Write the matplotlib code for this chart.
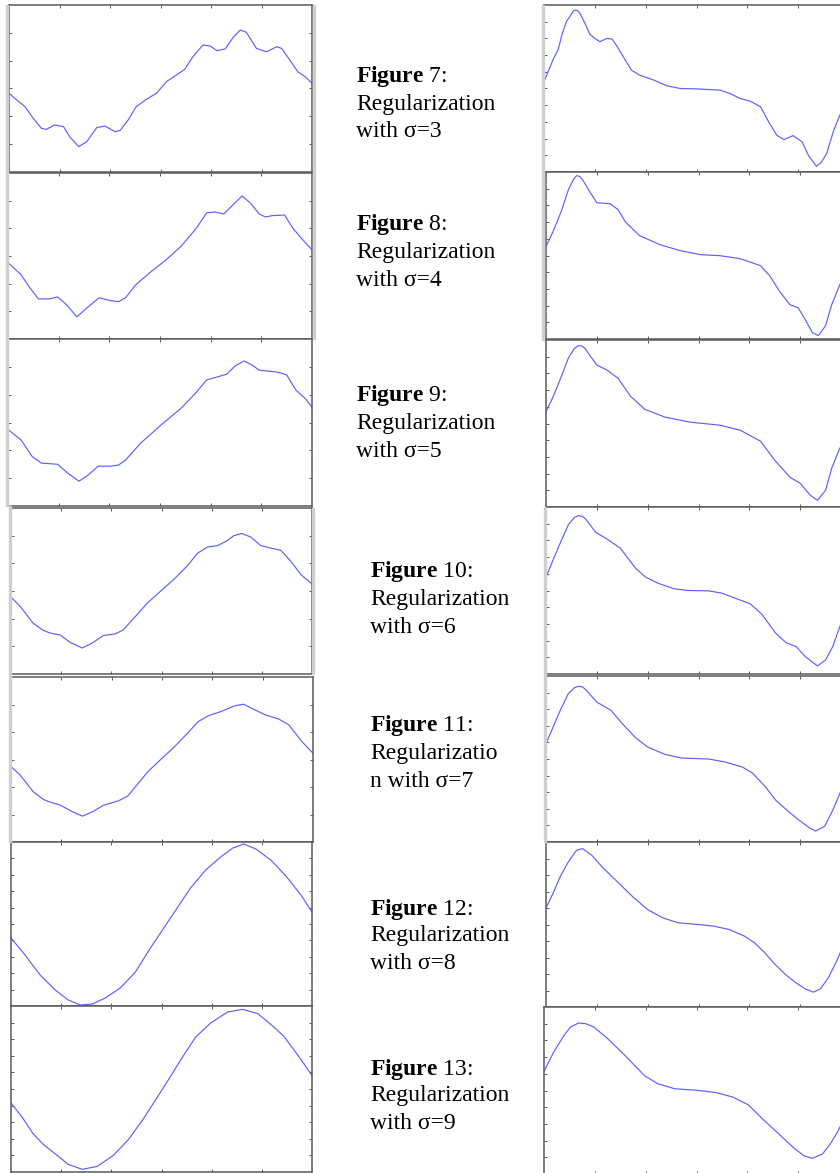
import matplotlib
matplotlib.use('Agg')
import matplotlib.pyplot as plt
from matplotlib.patches import Rectangle

plt.rcParams['font.family'] = ['Liberation Serif', 'DejaVu Serif']
plt.rcParams['mathtext.fontset'] = 'custom'
plt.rcParams['mathtext.rm'] = 'Liberation Serif'
plt.rcParams['mathtext.bf'] = 'Liberation Serif:bold'

W, H = 840, 1173

# ---- left column curves (sigma = 3 .. 9) ----
x_l3 = [0, 7.6, 15.8, 24, 32, 37, 45, 54, 60, 69, 77, 87, 95, 105, 110, 118, 126, 136,
        146, 156, 166, 174, 182, 192, 199, 206, 214, 222, 229, 235, 245, 255, 265, 270,
        278, 286, 293, 300]
y_l3 = [-0.17, -0.41, -0.65, -1.07, -1.43, -1.47, -1.31, -1.37, -1.73, -2.09, -1.91, -1.40,
        -1.35, -1.55, -1.51, -1.13, -0.65, -0.39, -0.17, 0.25, 0.49, 0.69, 1.14, 1.56, 1.53,
        1.36, 1.42, 1.84, 2.10, 2.02, 1.44, 1.32, 1.50, 1.44, 1.02, 0.60, 0.43, 0.19]

x_l4 = [0, 13, 21, 30, 41, 49, 58, 68, 78, 90, 101, 109, 116, 126, 141, 156, 171, 186,
        196, 204, 213, 221, 231, 239, 248, 254, 261, 273, 281, 291, 300]
y_l4 = [-0.24, -0.68, -1.12, -1.55, -1.55, -1.48, -1.77, -2.20, -1.87, -1.51, -1.61, -1.65,
        -1.51, -1.04, -0.57, -0.14, 0.36, 1.01, 1.56, 1.59, 1.52, 1.81, 2.17, 1.92, 1.52,
        1.41, 1.46, 1.48, 1.01, 0.58, 0.22]

x_l5 = [0, 13, 24, 33, 49, 59, 70, 79, 89, 101, 109, 116, 131, 151, 171, 186, 196, 206,
        216, 224, 233, 241, 248, 256, 266, 275, 284, 294, 300]
y_l5 = [-0.25, -0.63, -1.23, -1.46, -1.50, -1.82, -2.11, -1.89, -1.57, -1.57, -1.53, -1.35,
        -0.74, -0.09, 0.52, 1.09, 1.53, 1.63, 1.74, 2.03, 2.21, 2.06, 1.88, 1.85, 1.81,
        1.71, 1.17, 0.84, 0.55]

x_l6 = [0, 9, 22, 32, 39, 49, 59, 71, 81, 92, 104, 112, 124, 136, 149, 162, 176, 186,
        196, 206, 216, 222, 230, 239, 249, 259, 269, 279, 289, 300]
y_l6 = [-0.22, -0.55, -1.16, -1.42, -1.52, -1.59, -1.86, -2.06, -1.88, -1.61, -1.55, -1.40,
        -0.92, -0.43, -0.01, 0.41, 0.92, 1.37, 1.59, 1.64, 1.83, 2.00, 2.08, 1.95, 1.64,
        1.55, 1.47, 1.07, 0.59, 0.25]

x_l7 = [0, 9, 22, 32, 39, 49, 61, 71, 81, 92, 107, 116, 136, 149, 162, 176, 186, 196, 209,
        222, 231, 242, 252, 266, 276, 289, 300]
y_l7 = [-0.26, -0.56, -1.17, -1.45, -1.55, -1.66, -1.90, -2.06, -1.90, -1.66, -1.50, -1.33,
        -0.44, 0.01, 0.45, 0.98, 1.38, 1.59, 1.75, 1.95, 2.01, 1.81, 1.63, 1.47, 1.26, 0.65,
        0.23]

x_l8 = [0, 14, 29, 44, 57, 69, 81, 94, 109, 124, 139, 159, 179, 194, 209, 221, 232, 244,
        259, 274, 289, 300]
y_l8 = [-0.85, -1.89, -3.11, -4.02, -4.63, -4.94, -4.88, -4.51, -3.90, -2.93, -1.46, 0.37,
        2.20, 3.29, 4.09, 4.63, 4.88, 4.57, 3.90, 2.93, 1.77, 0.73]

x_l9 = [0, 11, 22, 32, 46, 57, 71, 86, 102, 117, 132, 146, 159, 171, 184, 199, 216, 231,
        246, 262, 272, 286, 300]
y_l9 = [-0.84, -1.69, -2.69, -3.33, -4.00, -4.54, -4.84, -4.66, -4.00, -3.05, -1.79, -0.48,
        0.76, 1.93, 3.13, 3.98, 4.64, 4.80, 4.54, 3.73, 3.17, 2.03, 0.82]

# ---- right column curves (sigma = 3 .. 9) ----
x_r3 = [0, 4, 9, 14, 18, 22, 27, 29, 31, 33, 35, 40, 45, 50, 55, 59, 62, 67, 71, 78, 86,
        94, 108, 121, 134, 150, 173, 183, 193, 203, 213, 221, 229, 236, 245, 254, 260, 268,
        273, 278, 285, 291, 300]
y_r3 = [0.40, 1.00, 1.74, 2.34, 3.30, 4.00, 4.46, 4.64, 4.70, 4.66, 4.54, 3.94, 3.26, 3.00,
        2.80, 2.92, 3.00, 2.96, 2.60, 1.90, 1.10, 0.80, 0.50, 0.16, 0.00, -0.02, -0.10, -0.30,
        -0.60, -0.76, -1.10, -2.00, -2.80, -3.06, -2.82, -3.20, -4.00, -4.66, -4.40, -3.90,
        -2.50, -1.60, -0.60]

x_r4 = [0, 7, 15, 22, 27, 30, 33, 36, 43, 50, 63, 71, 78, 92, 112, 132, 152, 171, 191, 211,
        220, 230, 240, 248, 255, 262, 268, 275, 281, 289, 300]
y_r4 = [0.54, 1.44, 2.64, 3.94, 4.55, 4.78, 4.74, 4.54, 3.82, 3.16, 3.10, 2.74, 2.02, 1.19,
        0.65, 0.29, 0.05, -0.01, -0.19, -0.61, -1.21, -2.17, -2.95, -3.13, -3.84, -4.62,
        -4.80, -4.20, -2.95, -1.75, -0.80]

x_r5 = [0, 7, 15, 22, 28, 32, 35, 38, 50, 60, 71, 83, 97, 117, 142, 171, 191, 211, 225,
        240, 250, 260, 267, 275, 281, 289, 300]
y_r5 = [0.70, 1.60, 2.80, 3.92, 4.50, 4.66, 4.64, 4.52, 3.50, 3.20, 2.70, 1.64, 0.86, 0.38,
        0.08, -0.10, -0.40, -1.06, -2.20, -3.22, -3.58, -4.30, -4.60, -4.00, -2.68, -1.48,
        -0.50]

x_r6 = [0, 7, 14, 22, 28, 32, 36, 39, 49, 60, 73, 88, 98, 110, 126, 140, 160, 173, 186,
        201, 212, 226, 236, 246, 255, 267, 275, 282, 292, 300]
y_r6 = [0.80, 1.84, 2.84, 3.94, 4.38, 4.48, 4.44, 4.28, 3.48, 3.08, 2.54, 1.34, 0.80, 0.44,
        0.10, 0.00, -0.02, -0.16, -0.46, -0.80, -1.40, -2.56, -3.12, -3.36, -3.96, -4.52,
        -4.16, -3.36, -1.66, -0.60]

x_r7 = [0, 7, 14, 22, 28, 32, 36, 39, 50, 64, 75, 88, 100, 117, 133, 160, 176, 193, 203,
        216, 226, 239, 249, 259, 265, 274, 282, 292, 300]
y_r7 = [0.92, 1.93, 2.93, 3.94, 4.30, 4.38, 4.34, 4.18, 3.43, 2.93, 2.13, 1.29, 0.72, 0.28,
        0.06, 0.00, -0.18, -0.48, -0.84, -1.69, -2.49, -3.19, -3.69, -4.14, -4.34, -4.06,
        -3.09, -1.65, -0.60]

x_r8 = [0, 7, 14, 22, 30, 36, 45, 55, 70, 85, 100, 115, 130, 150, 165, 180, 195, 205, 215,
        225, 235, 245, 255, 263, 270, 278, 286, 293, 300]
y_r8 = [1.0, 1.9, 2.9, 3.8, 4.5, 4.6, 4.2, 3.5, 2.6, 1.7, 0.9, 0.4, 0.1, 0.0, -0.1, -0.3,
        -0.7, -1.1, -1.7, -2.4, -3.0, -3.5, -3.9, -4.1, -3.9, -3.2, -2.2, -1.2, -0.2]

x_r9 = [0, 9, 19, 26, 34, 41, 49, 62, 79, 99, 112, 129, 149, 169, 186, 201, 216, 232, 246,
        256, 264, 274, 282, 289, 296, 300]
y_r9 = [1.14, 2.24, 3.24, 3.80, 4.04, 4.00, 3.80, 3.14, 2.14, 0.88, 0.40, 0.10, 0.02, -0.12,
        -0.40, -0.86, -1.76, -2.66, -3.46, -3.92, -4.06, -3.80, -3.16, -2.46, -1.56, -1.10]

sigmas = [3, 4, 5, 6, 7, 8, 9]
fig_numbers = [7, 8, 9, 10, 11, 12, 13]
left_curves = [(x_l3, y_l3), (x_l4, y_l4), (x_l5, y_l5), (x_l6, y_l6),
               (x_l7, y_l7), (x_l8, y_l8), (x_l9, y_l9)]
right_curves = [(x_r3, y_r3), (x_r4, y_r4), (x_r5, y_r5), (x_r6, y_r6),
                (x_r7, y_r7), (x_r8, y_r8), (x_r9, y_r9)]

# panel boxes in pixels: left, top, right, bottom
left_boxes = [(9, 5, 312, 172), (8, 173, 312, 339), (8, 339, 312, 506),
              (11, 508, 312, 674), (11, 677, 313, 842), (11, 842, 312, 1006),
              (11, 1006, 312, 1172)]
right_boxes = [(544, 5, 849, 172), (546, 172, 851, 339), (546, 340, 851, 507),
               (546, 507, 851, 674), (546, 676, 851, 842), (546, 842, 851, 1007),
               (544, 1007, 849, 1174)]
left_yint = [6, 6, 6, 6, 6, 10, 10]

# caption baselines (px) and left edge
cap_base = [(82, 110, 137), (230, 258, 286), (401, 429, 457), (577, 605, 633),
            (731, 759, 787), (915, 941, 969), (1075, 1101, 1129)]
cap_x = [356, 356, 356, 370, 370, 370, 370]

line_col = '#5f5fff'
frame_col = '#5a5a5a'

fig = plt.figure(figsize=(W / 100, H / 100), dpi=100)
fig.patch.set_facecolor('white')

# light grey scan edges next to some panels
for (x0, y0, x1, y1) in [(6, 5, 8, 506), (313, 5, 315, 339), (9, 506, 11, 842),
                         (312, 508, 314, 674), (542, 5, 544, 340), (544, 507, 546, 842)]:
    fig.patches.append(Rectangle((x0 / W, 1 - y1 / H), (x1 - x0) / W, (y1 - y0) / H,
                                 transform=fig.transFigure, color='#cfcfcf', zorder=0))


def make_panel(box, xs, ys, nint):
    l, t, r, b = box
    ax = fig.add_axes([l / W, 1 - b / H, (r - l) / W, (b - t) / H])
    half = nint / 2
    ax.plot(xs, ys, color=line_col, lw=0.85, solid_joinstyle='round')
    ax.set_xlim(0, 300)
    ax.set_ylim(-half, half)
    ax.set_xticks([50, 100, 150, 200, 250])
    ax.set_yticks(list(range(-int(half) + 1, int(half))))
    ax.tick_params(direction='in', length=2.2, width=0.7, colors=frame_col,
                   top=True, right=True, labelbottom=False, labelleft=False)
    for sp in ax.spines.values():
        sp.set_color(frame_col)
        sp.set_linewidth(1.1)
    return ax


for i in range(7):
    make_panel(left_boxes[i], left_curves[i][0], left_curves[i][1], left_yint[i])
    make_panel(right_boxes[i], right_curves[i][0], right_curves[i][1], 10)

    b1, b2, b3 = cap_base[i]
    cx = cap_x[i] / W
    fig.text(cx, 1 - b1 / H, r'$\mathbf{Figure}$' + ' %d:' % fig_numbers[i],
             fontsize=17, va='baseline', ha='left')
    if fig_numbers[i] == 11:
        l2, l3 = 'Regularizatio', 'n with σ=%d' % sigmas[i]
    else:
        l2, l3 = 'Regularization', 'with σ=%d' % sigmas[i]
    fig.text(cx, 1 - b2 / H, l2, fontsize=17, va='baseline', ha='left')
    fig.text(cx, 1 - b3 / H, l3, fontsize=17, va='baseline', ha='left')

fig.savefig('out.png', dpi=100, facecolor='white')
